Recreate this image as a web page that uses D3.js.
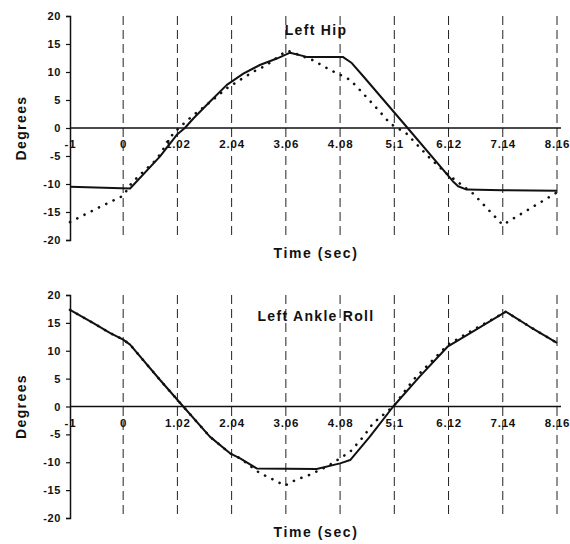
<!DOCTYPE html>
<html>
<head>
<meta charset="utf-8">
<script src="https://cdn.jsdelivr.net/npm/d3@7"></script>
<style>
  body { margin: 0; background: #fff; }
  text { font-family: 'Liberation Sans', Arial, sans-serif; font-weight: bold; fill: #111; }
</style>
</head>
<body>
<div id="chart"></div>
<script>
const xTicks = [-1, 0, 1.02, 2.04, 3.06, 4.08, 5.1, 6.12, 7.14, 8.16];
const yTicks = [-20, -15, -10, -5, 0, 5, 10, 15, 20];

// Left Hip
const hipTime = [-1, 0.13, 0.69, 1.02, 1.16, 1.32, 1.63, 1.95, 2.26, 2.57, 2.89, 3.14, 3.45, 4.13, 4.3, 4.52, 5.35, 6.2, 6.3, 6.46, 7.14, 8.16];
const hipActual = [-10.5, -10.8, -5.1, -1.1, 0, 1.7, 4.7, 7.7, 9.7, 11.25, 12.4, 13.45, 12.7, 12.7, 11.6, 9.2, 0, -9.5, -10.4, -11.0, -11.1, -11.2];
const hipRefTime = [-1, -0.5, 0, 0.16, 0.38, 0.63, 0.94, 1.07, 1.32, 1.54, 1.95, 2.2, 2.44, 2.7, 3.0, 3.1, 3.57, 3.89, 4.27, 4.51, 4.83, 5.02, 5.33, 5.77, 6.08, 6.58, 7.14, 8.16];
const hipRef = [-16.8, -14.4, -12.1, -9.8, -7.8, -5.6, -1, 0.2, 2.3, 3.9, 7.1, 8.6, 10, 11.25, 13.3, 13.8, 12.1, 10.4, 8.6, 6.2, 2.9, 0.8, -1.0, -5.4, -8.1, -11.7, -17.3, -11.5];

// Left Ankle Roll
const ankleTime = [-1, -0.56, -0.25, 0, 0.13, 0.69, 1.13, 1.63, 2.01, 2.2, 2.51, 3.64, 4.08, 4.27, 4.64, 5.08, 5.58, 6.11, 6.52, 7.2, 7.65, 8.16];
const ankleActual = [17.35, 14.95, 13.2, 12.0, 11.1, 4.8, 0, -5.4, -8.4, -9.3, -11.1, -11.2, -10.2, -9.6, -5.4, 0, 5.4, 10.8, 13.1, 17.0, 14.3, 11.4];
const ankleRefTime = [-1, -0.56, -0.25, 0, 0.13, 0.69, 1.13, 1.63, 2.01, 2.2, 2.57, 2.82, 3.04, 3.26, 3.51, 3.83, 4.08, 4.27, 4.52, 4.7, 4.89, 5.08, 5.46, 6.11, 6.52, 7.2, 7.65, 8.16];
const ankleRef = [17.35, 14.95, 13.2, 12.0, 11.1, 4.8, 0, -5.4, -8.4, -9.3, -11.95, -13.1, -14.2, -13.1, -12.25, -10.8, -9.3, -8.1, -5.4, -3.0, -1.5, 0, 4.8, 11.1, 13.4, 17.0, 14.3, 11.4];

const panels = [
  { title: 'Left Hip', top: 16, bottom: 240, titleY: 35, timeY: 258,
    actual: hipTime.map((t, i) => [t, hipActual[i]]),
    ref: hipRefTime.map((t, i) => [t, hipRef[i]]) },
  { title: 'Left Ankle Roll', top: 295, bottom: 518, titleY: 321, timeY: 537,
    actual: ankleTime.map((t, i) => [t, ankleActual[i]]),
    ref: ankleRefTime.map((t, i) => [t, ankleRef[i]]) }
];

const left = 70;
const right = 557;

const svg = d3.select('#chart')
  .append('svg')
  .attr('width', 570)
  .attr('height', 544);

const x = d3.scaleLinear().domain([-1, 8.16]).range([left, right]);

panels.forEach((p) => {
  const y = d3.scaleLinear().domain([-20, 20]).range([p.bottom, p.top]);
  const g = svg.append('g');

  // dashed vertical grid
  g.selectAll('.grid')
    .data(xTicks.slice(1))
    .enter()
    .append('line')
    .attr('x1', (d) => x(d))
    .attr('x2', (d) => x(d))
    .attr('y1', p.top)
    .attr('y2', p.bottom)
    .attr('stroke', '#222')
    .attr('stroke-width', 1)
    .attr('stroke-dasharray', '9,5');

  // y axis
  const yAxis = g.append('g')
    .attr('transform', `translate(${left},0)`)
    .call(d3.axisLeft(y).tickValues(yTicks).tickSize(4).tickPadding(5).tickFormat((d) => String(d)));
  yAxis.select('.domain').attr('stroke', '#111').attr('stroke-width', 1.5);
  yAxis.selectAll('.tick line').attr('stroke', '#111').attr('stroke-width', 1.2);
  yAxis.selectAll('text')
    .attr('font-size', 11)
    .attr('letter-spacing', 0.6)
    .attr('font-family', "'Liberation Sans', Arial, sans-serif")
    .attr('font-weight', 'bold')
    .attr('fill', '#111');

  // zero line with x tick labels beneath
  const xAxis = g.append('g')
    .attr('transform', `translate(0,${y(0)})`)
    .call(d3.axisBottom(x).tickValues(xTicks).tickSize(0).tickPadding(12).tickFormat((d) => String(d)));
  xAxis.select('.domain').remove();
  xAxis.append('line')
    .attr('x1', left)
    .attr('x2', right + 4)
    .attr('stroke', '#111')
    .attr('stroke-width', 1.5);
  xAxis.selectAll('text')
    .attr('font-size', 11.5)
    .attr('letter-spacing', 0.8)
    .attr('font-family', "'Liberation Sans', Arial, sans-serif")
    .attr('font-weight', 'bold')
    .attr('fill', '#111');

  const line = d3.line()
    .x((d) => x(d[0]))
    .y((d) => y(d[1]));

  g.append('path')
    .datum(p.ref)
    .attr('d', line)
    .attr('fill', 'none')
    .attr('stroke', '#111')
    .attr('stroke-width', 2.6)
    .attr('stroke-linecap', 'round')
    .attr('stroke-dasharray', '0.1,8');

  g.append('path')
    .datum(p.actual)
    .attr('d', line)
    .attr('fill', 'none')
    .attr('stroke', '#111')
    .attr('stroke-width', 2)
    .attr('stroke-linejoin', 'round');

  g.append('text')
    .attr('x', 316)
    .attr('y', p.titleY)
    .attr('text-anchor', 'middle')
    .attr('font-size', 14)
    .attr('letter-spacing', 1.3)
    .text(p.title);

  g.append('text')
    .attr('x', 316)
    .attr('y', p.timeY)
    .attr('text-anchor', 'middle')
    .attr('font-size', 14)
    .attr('letter-spacing', 1.6)
    .text('Time (sec)');

  g.append('text')
    .attr('transform', `translate(26,${(p.top + p.bottom) / 2}) rotate(-90)`)
    .attr('text-anchor', 'middle')
    .attr('font-size', 14)
    .attr('letter-spacing', 1.4)
    .text('Degrees');
});
</script>
</body>
</html>
